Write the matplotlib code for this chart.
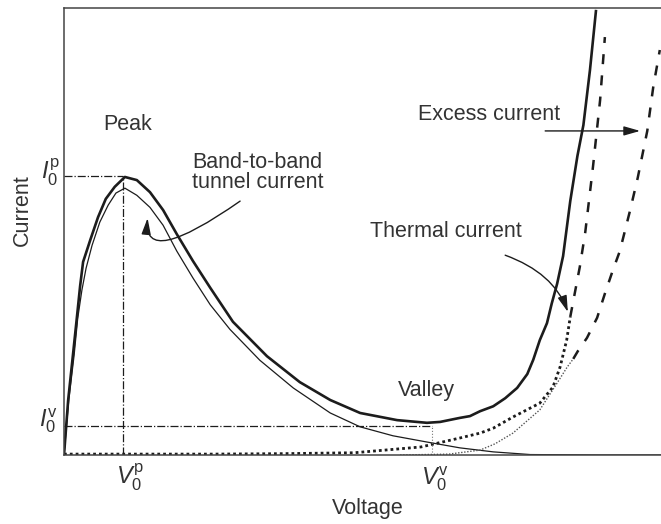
import matplotlib
matplotlib.use("Agg")
import matplotlib.pyplot as plt

plt.rcParams["font.family"] = ["Liberation Sans", "DejaVu Sans"]
plt.rcParams["mathtext.fontset"] = "custom"
plt.rcParams["mathtext.rm"] = "Liberation Sans"
plt.rcParams["mathtext.it"] = "Liberation Sans:italic"

# values, both axes run 0..100 (arbitrary units)
totalV = [0, 0.7, 1.5, 2.2, 2.7, 3.2, 4.4, 5.7, 7.0, 8.5, 10.2, 12.2, 14.4, 16.6, 18.9, 21.6,
          24.5, 28.3, 34.0, 39.5, 44.6, 49.6, 55.8, 60.8, 63.0, 66.3, 68.0, 69.7, 71.9,
          73.9, 75.9, 77.6, 78.6, 79.7, 80.9, 81.7, 82.6, 83.6, 84.8, 86.0, 87.0, 88.1, 89.1]
totalI = [0, 12.3, 22.4, 31.3, 37.8, 43.2, 48.1, 53.2, 57.3, 60.0, 62.2, 61.5, 58.8, 54.8, 49.4,
          43.4, 37.4, 29.8, 22.1, 16.3, 12.3, 9.4, 7.8, 7.2, 7.4, 8.3, 8.7, 9.8, 10.9,
          12.7, 15.0, 18.1, 21.3, 25.7, 29.5, 33.9, 38.3, 44.5, 56.8, 66.9, 73.8, 86.1, 99.3]

tunnelV = [0, 0.8, 1.7, 2.3, 3.0, 3.7, 4.7, 6.0, 7.4, 8.7, 10.2, 12.2, 14.4, 16.6, 18.9,
           21.6, 24.5, 27.8, 32.8, 38.4, 44.6, 49.6, 55.1, 60.8, 66.3, 71.9, 78.1, 90.0, 100]
tunnelI = [0, 12.3, 22.4, 30.6, 36.9, 41.8, 46.9, 52.1, 55.9, 58.6, 59.7, 58.1, 55.4, 51.4, 45.6,
           39.6, 33.6, 28.1, 21.2, 15.0, 9.4, 6.3, 4.3, 2.9, 1.6, 0.7, 0.1, 0, 0]

# steep branch: heavy dots near the axis, dashes higher up
steepV_dot = [0, 25.0, 36.6, 48.6, 59.8, 66.3, 69.7, 71.9, 75.2, 79.7, 81.9, 83.1, 84.2, 84.8]
steepI_dot = [0.2, 0.2, 0.3, 0.5, 1.8, 3.8, 4.9, 6.0, 8.5, 11.6, 15.2, 19.7, 25.7, 30.9]
steepV_dash = [84.8, 86.4, 87.3, 88.6, 89.8, 90.6]
steepI_dash = [30.9, 42.1, 49.7, 64.4, 79.4, 93.5]

# gentle branch: fine dots near the axis, dashes higher up
gentleV_dot = [56.3, 64.5, 69.7, 72.2, 75.2, 79.7, 82.6, 84.3, 85.3]
gentleI_dot = [0, 0.2, 1.1, 2.5, 4.9, 10.1, 16.1, 19.7, 21.5]
gentleV_dash = [85.3, 86.1, 87.6, 89.3, 90.6, 91.9, 93.1, 94.8, 96.1, 97.7, 98.7, 99.8]
gentleI_dash = [21.5, 23.3, 26.2, 30.7, 36.1, 41.2, 45.6, 54.6, 62.0, 72.5, 82.3, 90.6]

peakV, peakI = 9.9, 62.4
valleyV, valleyI = 61.6, 6.5

ink = "#1c1c1c"
txt = "#333333"

fig = plt.figure(figsize=(6.61, 5.24), dpi=100)
ax = fig.add_axes([64 / 661, 69 / 524, 597 / 661, 447 / 524])
ax.set_xlim(0, 100)
ax.set_ylim(0, 100)
ax.set_xticks([])
ax.set_yticks([])
ax.spines["right"].set_visible(False)
for s in ["left", "top", "bottom"]:
    ax.spines[s].set_linewidth(1.1)
    ax.spines[s].set_color("#444444")

ax.plot(totalV, totalI, color=ink, lw=1.9, solid_joinstyle="round")
ax.plot(tunnelV, tunnelI, color=ink, lw=0.9, solid_joinstyle="round")
ax.plot(steepV_dot, steepI_dot, color=ink, lw=2.0, ls=(0, (1, 1.1)))
ax.plot(steepV_dash, steepI_dash, color=ink, lw=1.8, ls=(0, (4, 4.5)))
ax.plot(gentleV_dot, gentleI_dot, color="#555555", lw=1.0, ls=(0, (1, 1.2)))
ax.plot(gentleV_dash, gentleI_dash, color=ink, lw=1.8, ls=(0, (4, 4.5)))

# guide lines at peak and valley
ax.plot([0, peakV], [peakI, peakI], color=ink, lw=0.9, ls="-.")
ax.plot([peakV, peakV], [0, peakI], color=ink, lw=0.9, ls="-.")
ax.plot([0, valleyV], [valleyI, valleyI], color=ink, lw=0.9, ls="-.")
ax.plot([valleyV, valleyV], [0, valleyI], color="#777777", lw=0.8, ls=":")

fs = 15.5
ms = 17
ax.text(-2.3, 63.3, r"$I_0^{\mathrm{p}}$", fontsize=ms, color=txt, ha="center", va="center", clip_on=False)
ax.text(-2.7, 7.6, r"$I_0^{\mathrm{v}}$", fontsize=ms, color=txt, ha="center", va="center", clip_on=False)
ax.text(11.1, -5.0, r"$V_0^{\mathrm{p}}$", fontsize=ms, color=txt, ha="center", va="center", clip_on=False)
ax.text(62.1, -5.2, r"$V_0^{\mathrm{v}}$", fontsize=ms, color=txt, ha="center", va="center", clip_on=False)

ax.text(50.9, -11.9, "Voltage", fontsize=fs, color=txt, ha="center", va="center", clip_on=False)
ax.text(-7.0, 54.8, "Current", fontsize=fs, color=txt, ha="center", va="center", rotation=90, clip_on=False)

ax.text(10.6, 74.0, "Peak", fontsize=fs, color=txt, ha="center", va="center")
ax.text(21.4, 65.5, "Band-to-band", fontsize=fs, color=txt, ha="left", va="center")
ax.text(21.4, 60.9, "tunnel current", fontsize=fs, color=txt, ha="left", va="center")
ax.text(59.3, 76.1, "Excess current", fontsize=fs, color=txt, ha="left", va="center")
ax.text(51.3, 49.9, "Thermal current", fontsize=fs, color=txt, ha="left", va="center")
ax.text(55.9, 14.5, "Valley", fontsize=fs, color=txt, ha="left", va="center")

head = "-|>,head_length=0.7,head_width=0.2"
ax.annotate("", xy=(14.0, 53.0), xytext=(29.5, 56.8),
            arrowprops=dict(arrowstyle=head, color=ink, lw=1.0, mutation_scale=14,
                            shrinkA=0, shrinkB=0,
                            connectionstyle="angle3,angleA=-145,angleB=-95"))
ax.annotate("", xy=(96.5, 72.5), xytext=(80.6, 72.5),
            arrowprops=dict(arrowstyle=head, color=ink, lw=1.0, mutation_scale=14,
                            shrinkA=0, shrinkB=0))
ax.annotate("", xy=(84.4, 32.0), xytext=(73.9, 44.7),
            arrowprops=dict(arrowstyle=head, color=ink, lw=1.0, mutation_scale=14,
                            shrinkA=0, shrinkB=0,
                            connectionstyle="angle3,angleA=-20,angleB=110"))

fig.savefig("out.png", dpi=100)
